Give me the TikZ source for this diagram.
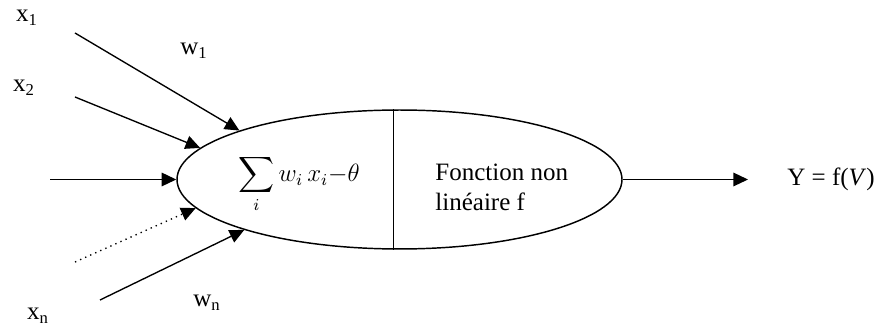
\documentclass[tikz,border=0pt]{standalone}
\usepackage{amsmath}
\usepackage{fontspec}
\setmainfont{Liberation Serif}
\usetikzlibrary{shapes.geometric,arrows.meta}

\begin{document}
\begin{tikzpicture}[
x=0.48pt, y=-0.48pt,
font=\fontsize{12}{14.5}\selectfont,
cell/.style={draw, ellipse, line width=0.7pt, minimum width=213.6pt, minimum height=66.7pt, inner sep=0pt},
link/.style={-{Triangle[length=7pt, width=6.5pt]}, line width=0.65pt},
lbl/.style={inner sep=0pt}
]
\useasboundingbox (0,0) rectangle (875,327);
\node[cell] (neuron) at (399.5,179.5) {};
\draw[line width=0.7pt] ([xshift=-3pt]neuron.north) -- ([xshift=-3pt]neuron.south);
\node[lbl] (sum) at (299,184) {$\displaystyle\sum_i w_i\,x_i{-}\theta$};
\node[lbl, anchor=west, align=left] (act) at (435,187) {Fonction non\\linéaire f};
% entrees
\node[lbl] (x1) at (27,18) {x\textsubscript{1}};
\node[lbl] (x2) at (24,88) {x\textsubscript{2}};
\node[lbl] (xn) at (38,316) {x\textsubscript{n}};
\node[lbl] (w1) at (194,51) {w\textsubscript{1}};
\node[lbl] (wn) at (207,303) {w\textsubscript{n}};
\coordinate (in1) at (75,33);
\coordinate (in2) at (75,97);
\coordinate (in3) at (50,179.5);
\coordinate (in4) at (75,262);
\coordinate (in5) at (100,300);
\draw[link] (in1) -- (neuron.163);
\draw[link] (in2) -- (neuron.171);
\draw[link] (in3) -- (neuron.west);
\draw[link, dotted] (in4) -- (neuron.188);
\draw[link] (in5) -- (neuron.198);
% sortie
\coordinate (tip) at (748,179.5);
\node[lbl, anchor=west] (y) at (787,179.5) {Y = f(\textit{V})};
\draw[link] (neuron.east) -- (tip);
\end{tikzpicture}
\end{document}
